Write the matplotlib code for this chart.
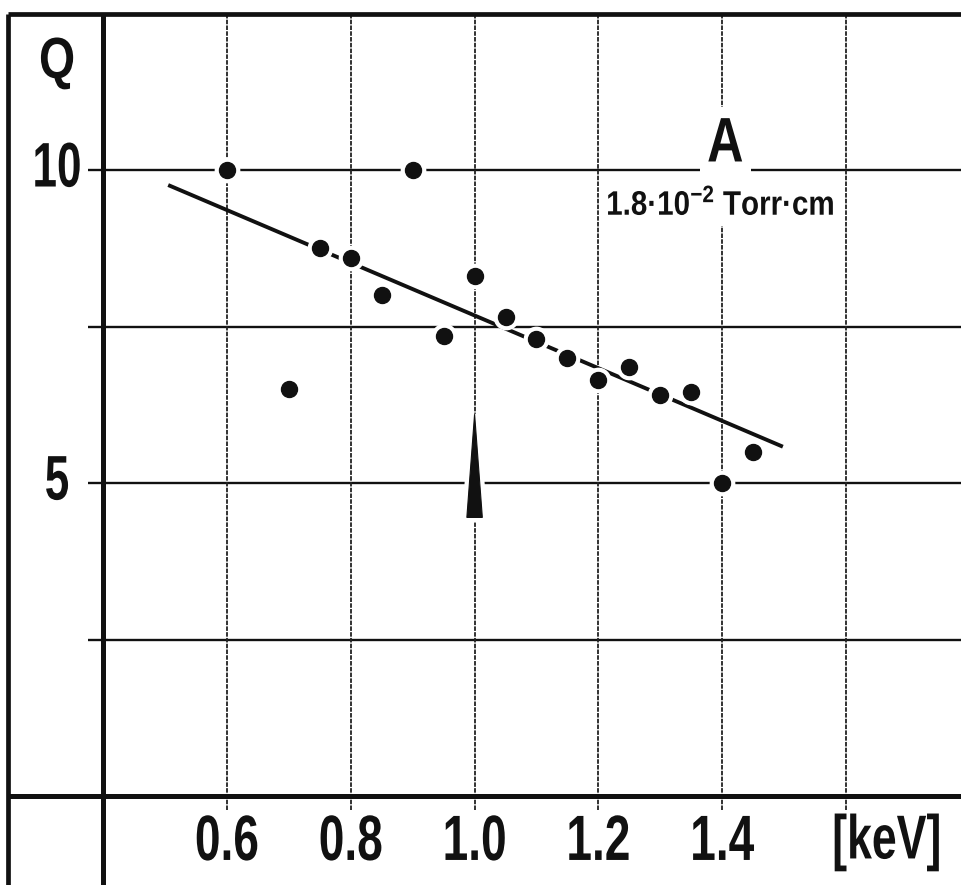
"""Q vs. energy [keV] for gas A (1.8e-2 Torr cm), redrawn in the old plate style."""
import matplotlib
matplotlib.use("Agg")
import matplotlib.pyplot as plt
from matplotlib.patheffects import AbstractPathEffect
from matplotlib.transforms import Affine2D

ENERGY_KEV = [0.60, 0.70, 0.75, 0.80, 0.85, 0.90, 0.95, 1.00, 1.05,
              1.10, 1.15, 1.20, 1.25, 1.30, 1.35, 1.40, 1.45]
Q_VALUES = [10.0, 6.5, 8.75, 8.6, 8.0, 10.0, 7.35, 8.3, 7.65,
            7.3, 7.0, 6.65, 6.85, 6.4, 6.45, 5.0, 5.5]

# hand-drawn fit line (end points)
FIT_KEV = [0.505, 1.498]
FIT_Q = [9.76, 5.58]

# arrow marking 1.0 keV
ARROW_KEV = 1.0
ARROW_TIP_Q = 6.1
ARROW_BASE_Q = 4.45

X_GRID = [0.6, 0.8, 1.0, 1.2, 1.4, 1.6]
X_LABELS = ["0.6", "0.8", "1.0", "1.2", "1.4"]
Y_GRID = [2.5, 5.0, 7.5, 10.0]
Y_LABELS = {5.0: "5", 10.0: "10"}
X_UNIT = "[keV]"
Y_NAME = "Q"
CURVE_NAME = "A"
CURVE_NOTE = "1.8·10$^{-2}$ Torr·cm"

INK = "#111111"
FAMILY = "Liberation Sans"
plt.rcParams.update({"font.family": [FAMILY, "DejaVu Sans"],
                     "mathtext.fontset": "custom",
                     "mathtext.rm": FAMILY,
                     "mathtext.bf": FAMILY + ":bold",
                     "mathtext.default": "regular"})


class Squeeze(AbstractPathEffect):
    """Narrow the glyphs around a vertical line (display x = cx),
    the plate uses condensed stencil lettering."""

    def __init__(self, sx, cx):
        super().__init__()
        self._sx, self._cx = sx, cx

    def draw_path(self, renderer, gc, tpath, affine, rgbFace=None):
        sq = Affine2D().translate(-self._cx, 0).scale(self._sx, 1).translate(self._cx, 0)
        renderer.draw_path(gc, tpath, affine + sq, rgbFace)


def lettering(ax, x, y, s, size_px, sx=0.72, va="center", box_pad=None):
    t = ax.text(x, y, s, fontsize=size_px * 0.72, fontweight="bold", color=INK,
                ha="center", va=va, zorder=6)
    cx = ax.transData.transform((x, y))[0]
    t.set_path_effects([Squeeze(sx, cx)])
    if box_pad is not None:
        t.set_bbox(dict(boxstyle=f"square,pad={box_pad}", facecolor="white",
                        edgecolor="none"))
        t.get_bbox_patch().set_path_effects([Squeeze(sx, cx)])
    return t


fig = plt.figure(figsize=(9.62, 8.85), dpi=100)
ax = fig.add_axes([0, 0, 1, 1])
X0, X1 = 0.2333, 1.7874
Y0, Y1 = -1.4217, 12.716
ax.set_xlim(X0, X1)
ax.set_ylim(Y0, Y1)
ax.axis("off")

FRAME_LEFT, FRAME_TOP = 0.246, 12.5

# outer frame of the plate
ax.vlines(FRAME_LEFT, Y0, FRAME_TOP, color=INK, lw=3.4, zorder=2)
ax.hlines(FRAME_TOP, FRAME_LEFT, X1, color=INK, lw=3.4, zorder=2)

# grid, running a little past the axes like ticks
ax.hlines(Y_GRID, 0.375, X1, color=INK, lw=1.7, zorder=1)
ax.vlines(X_GRID, -0.22, FRAME_TOP, color="#222222", lw=1.3, ls=(0, (2.5, 0.7)), zorder=1)

# main axes
ax.vlines(0.4, Y0, FRAME_TOP, color=INK, lw=3.6, zorder=2)
ax.hlines(0.0, FRAME_LEFT, X1, color=INK, lw=3.6, zorder=2)

# fit line and points (white halo breaks the lines around each dot)
ax.plot(FIT_KEV, FIT_Q, color=INK, lw=2.8, solid_capstyle="butt", zorder=3)
ax.plot(ENERGY_KEV, Q_VALUES, "o", color="white", ms=17.5, zorder=4)
ax.plot(ENERGY_KEV, Q_VALUES, "o", color=INK, ms=11.5, zorder=5)

# arrow at 1.0 keV
hw = 0.0125
tri_x = [ARROW_KEV - hw, ARROW_KEV, ARROW_KEV + hw]
tri_y = [ARROW_BASE_Q, ARROW_TIP_Q, ARROW_BASE_Q]
ax.fill(tri_x, tri_y, facecolor="white", edgecolor="white", lw=7, zorder=4)
ax.fill(tri_x, tri_y, facecolor=INK, edgecolor=INK, lw=0.8, zorder=5)

# labels
for x, lab in zip(X_GRID, X_LABELS):
    lettering(ax, x, -0.75, lab, 64)
lettering(ax, 1.666, -0.75, X_UNIT, 62)
for y, lab in Y_LABELS.items():
    lettering(ax, 0.3254, y, lab, 63, sx=0.70)
lettering(ax, 0.3254, 11.71, Y_NAME, 58, sx=0.80)

lettering(ax, 1.405, 10.4, CURVE_NAME, 63, sx=0.80, box_pad=0.14)
lettering(ax, 1.397, 9.285, CURVE_NOTE, 34, sx=0.87, va="baseline", box_pad=0.12)

fig.savefig("out.png", dpi=100, facecolor="white")
